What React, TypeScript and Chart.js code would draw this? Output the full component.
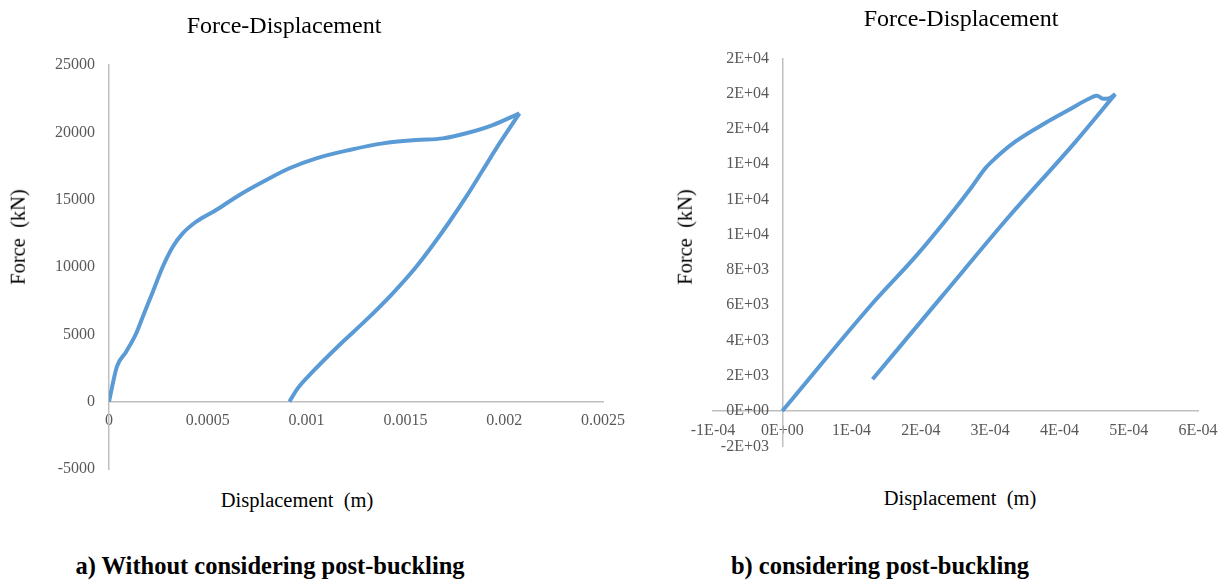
import React, { useEffect, useRef } from "react";
import { Chart, registerables } from "chart.js";

Chart.register(...registerables);

// ---------- Data (displacement in m, force in kN) ----------
// a) Without considering post-buckling
const LEFT_LOAD_DISP = [0, 0.00004, 0.000087, 0.000138, 0.000171, 0.000222, 0.000272, 0.000323, 0.000373, 0.000441, 0.000542, 0.00066, 0.000796, 0.000913, 0.001049, 0.001217, 0.001386, 0.001555, 0.001689, 0.001808, 0.001942, 0.002077];
const LEFT_LOAD_FORCE = [0, 2600, 3710, 5080, 6310, 8170, 10020, 11510, 12500, 13360, 14230, 15350, 16460, 17330, 18070, 18690, 19180, 19430, 19550, 19930, 20540, 21410];
const LEFT_UNLOAD_DISP = [0.000913, 0.000955, 0.001031, 0.001166, 0.001302, 0.001436, 0.001555, 0.001639, 0.001723, 0.001808, 0.001892, 0.001976, 0.002077];
const LEFT_UNLOAD_FORCE = [0, 990, 2230, 4210, 6070, 8050, 10020, 11630, 13360, 15220, 17200, 19180, 21410];

// b) considering post-buckling
const RIGHT_LOAD_DISP = [0, 0.0001342, 0.0001919, 0.0002496, 0.0002737, 0.0002929, 0.0003074, 0.0003362, 0.0003747, 0.0004132, 0.0004469, 0.000454, 0.000464, 0.000471, 0.0004805];
const RIGHT_LOAD_FORCE = [0, 6280, 8740, 11490, 12720, 13760, 14330, 15270, 16220, 17070, 17790, 17880, 17700, 17720, 17970];
const RIGHT_UNLOAD_DISP = [0.0001303, 0.0002304, 0.0003266, 0.0004228, 0.0004805];
const RIGHT_UNLOAD_FORCE = [1800, 6500, 11000, 15250, 17970];

// Axis ranges / tick steps: [min, max, step]
const LEFT_X_RANGE = [0, 0.0025, 0.0005];
const LEFT_Y_RANGE = [-5000, 25000, 5000];
const RIGHT_X_RANGE = [-0.0001, 0.0006, 0.0001];
const RIGHT_Y_RANGE = [-2000, 20000, 2000];

const TITLE_TEXT = "Force-Displacement";
const X_TITLE = "Displacement  (m)";
const Y_TITLE = "Force  (kN)";
const CAPTION_A = "a) Without considering post-buckling";
const CAPTION_B = "b) considering post-buckling";

const SERIF = "'Liberation Serif', 'Times New Roman', serif";
const LINE_COLOR = "#5B9BD5";
const AXIS_COLOR = "#bfbfbf";
const TICK_COLOR = "#595959";

function pts(xs: number[], ys: number[]) {
  return xs.map((x, i) => ({ x, y: ys[i] }));
}

// Excel "0E+00" number format
function sci0(v: number): string {
  if (Math.abs(v) < 1e-12) return "0E+00";
  const s = v.toExponential(0);
  const [m, e] = s.split("e");
  const n = parseInt(e, 10);
  return m + "E" + (n < 0 ? "-" : "+") + String(Math.abs(n)).padStart(2, "0");
}

function plain(v: number): string {
  return String(Number(v.toFixed(6)));
}

function lineDs(xs: number[], ys: number[]) {
  return {
    data: pts(xs, ys),
    showLine: true,
    borderColor: LINE_COLOR,
    backgroundColor: LINE_COLOR,
    borderWidth: 4,
    pointRadius: 0,
    pointHoverRadius: 0,
    cubicInterpolationMode: "monotone" as const,
    fill: false,
  };
}

// fix the box size of a scale and drop its label-overflow paddings
function fixBox(w?: number, h?: number) {
  return (s: any) => {
    if (w !== undefined) s.width = w;
    if (h !== undefined) s.height = h;
    s.paddingLeft = 0;
    s.paddingRight = 0;
    s.paddingTop = 0;
    s.paddingBottom = 0;
  };
}

const tickFont = { family: SERIF, size: 16 };
const titleFont = { family: SERIF, size: 24, weight: "normal" };

function LeftChart() {
  const ref = useRef<HTMLCanvasElement>(null);
  useEffect(() => {
    if (!ref.current) return;
    const chart = new Chart(ref.current, {
      type: "scatter",
      data: {
        datasets: [
          lineDs(LEFT_LOAD_DISP, LEFT_LOAD_FORCE),
          lineDs(LEFT_UNLOAD_DISP, LEFT_UNLOAD_FORCE),
        ],
      },
      options: {
        responsive: false,
        animation: false,
        devicePixelRatio: 1,
        layout: { padding: { left: 0, right: 25, top: 0, bottom: 15 } },
        plugins: {
          legend: { display: false },
          tooltip: { enabled: false },
          title: {
            display: true,
            text: TITLE_TEXT,
            color: "#000",
            font: titleFont,
            padding: { top: 12.6, bottom: 23.6 },
          },
        },
        scales: {
          x: {
            type: "linear",
            position: { y: 0 } as any,
            min: LEFT_X_RANGE[0],
            max: LEFT_X_RANGE[1],
            ticks: {
              stepSize: LEFT_X_RANGE[2],
              autoSkip: false,
              maxRotation: 0,
              minRotation: 0,
              padding: 9.5,
              color: TICK_COLOR,
              font: tickFont,
              callback: (v: any) => plain(Number(v)),
            },
            grid: { display: false, drawTicks: false },
            border: { display: true, color: AXIS_COLOR, width: 1.5 },
            afterFit: fixBox(undefined, 0),
          },
          y: {
            type: "linear",
            position: "left",
            min: LEFT_Y_RANGE[0],
            max: LEFT_Y_RANGE[1],
            ticks: {
              stepSize: LEFT_Y_RANGE[2],
              autoSkip: false,
              padding: 14,
              color: TICK_COLOR,
              font: tickFont,
              callback: (v: any) => plain(Number(v)),
            },
            grid: { display: false, drawTicks: false },
            border: { display: true, color: AXIS_COLOR, width: 1.5 },
            afterFit: fixBox(144, undefined),
          },
        },
      } as any,
    });
    return () => chart.destroy();
  }, []);
  return (
    <canvas
      ref={ref}
      width={663}
      height={484}
      style={{ position: "absolute", left: -35, top: 0, width: 663, height: 484 }}
    />
  );
}

// labels of an axis placed at x = 0 are drawn flush with it; pad them with spaces
const Y_LABEL_GAP = "   \u200A";

function RightChart() {
  const ref = useRef<HTMLCanvasElement>(null);
  useEffect(() => {
    if (!ref.current) return;
    const chart = new Chart(ref.current, {
      type: "scatter",
      data: {
        datasets: [
          lineDs(RIGHT_LOAD_DISP, RIGHT_LOAD_FORCE),
          lineDs(RIGHT_UNLOAD_DISP, RIGHT_UNLOAD_FORCE),
        ],
      },
      options: {
        responsive: false,
        animation: false,
        devicePixelRatio: 1,
        layout: { padding: { left: 30, right: 19, top: 0, bottom: 14.7 } },
        plugins: {
          legend: { display: false },
          tooltip: { enabled: false },
          title: {
            display: true,
            text: TITLE_TEXT,
            color: "#000",
            font: titleFont,
            padding: { top: 5.6, bottom: 23.9 },
          },
        },
        scales: {
          x: {
            type: "linear",
            position: { y: 0 } as any,
            min: RIGHT_X_RANGE[0],
            max: RIGHT_X_RANGE[1],
            ticks: {
              stepSize: RIGHT_X_RANGE[2],
              autoSkip: false,
              maxRotation: 0,
              minRotation: 0,
              padding: 10,
              color: TICK_COLOR,
              font: tickFont,
              callback: (v: any) => sci0(Number(v)),
            },
            grid: { display: false, drawTicks: false },
            border: { display: true, color: AXIS_COLOR, width: 1.5 },
            afterFit: fixBox(undefined, 0),
          },
          y: {
            type: "linear",
            position: { x: 0 } as any,
            min: RIGHT_Y_RANGE[0],
            max: RIGHT_Y_RANGE[1],
            ticks: {
              stepSize: RIGHT_Y_RANGE[2],
              autoSkip: false,
              padding: 0,
              color: TICK_COLOR,
              font: tickFont,
              callback: (v: any) => sci0(Number(v)) + Y_LABEL_GAP,
            },
            grid: { display: false, drawTicks: false },
            border: { display: true, color: AXIS_COLOR, width: 1.5 },
            afterFit: fixBox(0, undefined),
          },
          yPad: {
            type: "linear",
            position: "right",
            display: true,
            ticks: { display: false },
            grid: { display: false, drawTicks: false },
            border: { display: false },
            afterFit: fixBox(11, undefined),
          },
        },
      } as any,
    });
    return () => chart.destroy();
  }, []);
  return (
    <canvas
      ref={ref}
      width={545}
      height={461}
      style={{ position: "absolute", left: 683, top: 0, width: 545, height: 461 }}
    />
  );
}

const textBase: React.CSSProperties = {
  position: "absolute",
  fontFamily: SERIF,
  lineHeight: 1,
  whiteSpace: "pre",
  color: "#000",
  margin: 0,
};

function HText(props: { text: string; cx: number; baseline: number; size: number; bold?: boolean }) {
  const { text, cx, baseline, size, bold } = props;
  return (
    <div
      style={{
        ...textBase,
        left: cx,
        top: baseline - 0.8375 * size,
        fontSize: size,
        fontWeight: bold ? "bold" : "normal",
        transform: "translateX(-50%)",
      }}
    >
      {text}
    </div>
  );
}

function VText(props: { text: string; cx: number; cy: number; size: number }) {
  const { text, cx, cy, size } = props;
  return (
    <div
      style={{
        ...textBase,
        left: cx,
        top: cy,
        fontSize: size,
        transform: "translate(-50%, -50%) rotate(-90deg)",
      }}
    >
      {text}
    </div>
  );
}

export default function App() {
  return (
    <div
      style={{
        position: "absolute",
        left: 0,
        top: 0,
        width: 1228,
        height: 583,
        overflow: "hidden",
        background: "#fff",
      }}
    >
      <LeftChart />
      <RightChart />
      <VText text={Y_TITLE} cx={17.7} cy={236.7} size={20.5} />
      <VText text={Y_TITLE} cx={684.8} cy={236.5} size={20.5} />
      <HText text={X_TITLE} cx={297} baseline={506.7} size={20.5} />
      <HText text={X_TITLE} cx={960} baseline={505} size={20.5} />
      <HText text={CAPTION_A} cx={270} baseline={575} size={24.5} bold />
      <HText text={CAPTION_B} cx={880} baseline={575} size={24.5} bold />
    </div>
  );
}
